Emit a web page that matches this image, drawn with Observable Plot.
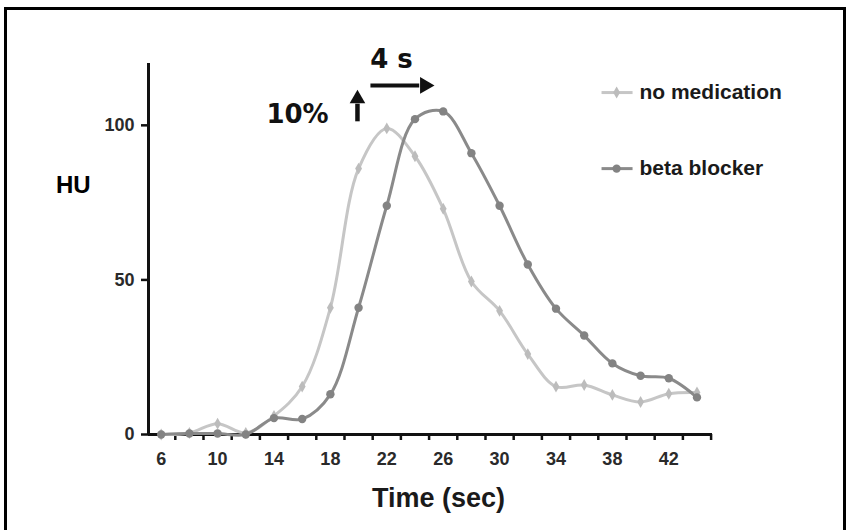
<!DOCTYPE html>
<html>
<head>
<meta charset="utf-8">
<script src="https://cdn.jsdelivr.net/npm/d3@7"></script>
<script src="https://cdn.jsdelivr.net/npm/@observablehq/plot@0.6"></script>
<style>
  html, body { margin: 0; padding: 0; background: #fff; }
  #wrap { position: relative; width: 851px; height: 530px; overflow: hidden; }
  #border { position: absolute; left: 4px; top: 7px; width: 842px; height: 540px; border: 3px solid #000; box-sizing: border-box; pointer-events: none; }
</style>
</head>
<body>
<div id="wrap"><div id="chart"></div><div id="border"></div></div>
<script>
// ---- data ----
const times = [6, 8, 10, 12, 14, 16, 18, 20, 22, 24, 26, 28, 30, 32, 34, 36, 38, 40, 42, 44];
const noMedication = [0, 0.5, 3.5, 0.5, 6, 15.5, 41, 86, 99, 90, 73, 49.5, 40, 26, 15.5, 16, 12.8, 10.5, 13.2, 13.6];
const betaBlocker = [0, 0.3, 0.3, 0, 5.3, 5, 13, 41, 74, 102, 104.5, 91, 74, 55, 40.7, 32, 23, 19, 18.2, 12];
const seriesNames = ["no medication", "beta blocker"];
const seriesColors = ["#c6c6c6", "#8a8a8a"];
const markerColors = ["#bcbcbc", "#838383"];
const yTicks = [0, 50, 100];
const xLabelTicks = [6, 10, 14, 18, 22, 26, 30, 34, 38, 42];
const xMinorTicks = [7, 9, 11, 13, 15, 17, 19, 21, 23, 25, 27, 29, 31, 33, 35, 37, 39, 41, 43, 45];
const annotations = [{text: "4 s", x: 22.33, y: 121.3}, {text: "10%", x: 15.67, y: 103.5}];

const rows = [];
times.forEach((t, i) => {
  rows.push({t, v: noMedication[i], s: seriesNames[0]});
  rows.push({t, v: betaBlocker[i], s: seriesNames[1]});
});
const legendRows = seriesNames.map((s, i) => ({s, y: [110.6, 86.0][i]}));

const sans = "'Liberation Sans', Arial, Helvetica, sans-serif";
const colorScale = {domain: seriesNames, range: seriesColors};

const chart = Plot.plot({
  width: 851,
  height: 530,
  marginLeft: 148,
  marginRight: 139,
  marginTop: 63,
  marginBottom: 96,
  style: {fontFamily: sans, background: "transparent", overflow: "visible"},
  x: {domain: [5.1, 45.1]},
  y: {domain: [0, 120]},
  color: colorScale,
  marks: [
    // axes
    Plot.axisY({ticks: yTicks, tickSize: 7, tickPadding: 7, strokeWidth: 2.5, fontSize: 18, fontWeight: "bold", fill: "#2a2a2a", stroke: "#111", label: null}),
    Plot.axisX({ticks: xMinorTicks, tickSize: 6, tickFormat: () => "", strokeWidth: 2.5, stroke: "#111", label: null}),
    Plot.axisX({ticks: xLabelTicks, tickSize: 0, tickPadding: 18, fontSize: 18, fontWeight: "bold", fill: "#2a2a2a", label: null}),
    Plot.ruleY([0], {stroke: "#111", strokeWidth: 3}),
    Plot.ruleX([5.1], {y1: 0, y2: 120, stroke: "#111", strokeWidth: 3}),
    // series
    Plot.line(rows, {x: "t", y: "v", stroke: "s", z: "s", strokeWidth: 3, curve: "catmull-rom"}),
    Plot.dot(rows.filter(d => d.s === seriesNames[0]), {x: "t", y: "v", symbol: "diamond", r: 3.6, fill: markerColors[0], stroke: "none"}),
    Plot.dot(rows.filter(d => d.s === seriesNames[1]), {x: "t", y: "v", symbol: "circle", r: 4.2, fill: markerColors[1], stroke: "none"}),
    // legend
    Plot.link(legendRows, {x1: 37.23, x2: 39.43, y1: "y", y2: "y", stroke: "s", strokeWidth: 3}),
    Plot.dot(legendRows.slice(0, 1), {x: 38.3, y: "y", symbol: "diamond", r: 3.6, fill: markerColors[0]}),
    Plot.dot(legendRows.slice(1), {x: 38.3, y: "y", symbol: "circle", r: 4.2, fill: markerColors[1]}),
    Plot.text(legendRows, {x: 39.92, y: "y", text: "s", textAnchor: "start", fontSize: 21, fontWeight: "bold", fill: "#1a1a1a"}),
    // annotations
    Plot.text(annotations, {x: "x", y: "y", text: "text", fontSize: 26, fontWeight: "bold", fontFamily: "'DejaVu Sans', Verdana, sans-serif", fill: "#111"}),
    Plot.link([{x1: 20.84, x2: 24.3, y: 112.9}], {x1: "x1", x2: "x2", y1: "y", y2: "y", stroke: "#111", strokeWidth: 4}),
    Plot.dot([{x: 24.7, y: 112.9}], {x: "x", y: "y", symbol: "triangle", r: 6.2, rotate: 90, fill: "#111"}),
    Plot.link([{x: 19.92, y1: 101.3, y2: 107}], {x1: "x", x2: "x", y1: "y1", y2: "y2", stroke: "#111", strokeWidth: 4.5}),
    Plot.dot([{x: 19.92, y: 108.6}], {x: "x", y: "y", symbol: "triangle", r: 5.8, fill: "#111"}),
    // axis titles
    Plot.text(["HU"], {frameAnchor: "left", y: [80.5], dx: -92.5, text: d => d, fontSize: 24, fontWeight: "bold", fill: "#000"}),
    Plot.text(["Time (sec)"], {frameAnchor: "bottom", dx: 8, dy: 72, text: d => d, fontSize: 27, fontWeight: "bold", fill: "#1a1a1a"})
  ]
});
document.getElementById("chart").appendChild(chart);
</script>
</body>
</html>
